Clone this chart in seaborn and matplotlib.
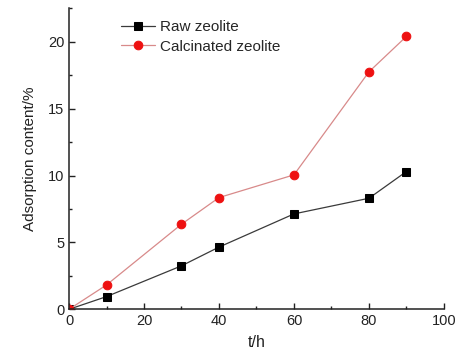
import matplotlib
matplotlib.use("Agg")
import matplotlib.pyplot as plt
from matplotlib.ticker import MultipleLocator
import seaborn as sns
import pandas as pd

# Adsorption over time for two zeolite samples
time_h = [0, 10, 30, 40, 60, 80, 90]
raw_zeolite = [0, 0.95, 3.25, 4.65, 7.13, 8.30, 10.30]
calcinated_zeolite = [0, 1.82, 6.36, 8.35, 10.05, 17.75, 20.40]
series_names = ["Raw zeolite", "Calcinated zeolite"]

sns.set_theme(style="ticks")
plt.rcParams["font.family"] = ["Liberation Sans", "DejaVu Sans"]

fig = plt.figure(figsize=(4.61, 3.55), dpi=100)
ax = fig.add_axes([0.1497, 0.1287, 0.8133, 0.848])

df = pd.DataFrame({
    "t": time_h * 2,
    "value": raw_zeolite + calcinated_zeolite,
    "series": [series_names[0]] * len(time_h) + [series_names[1]] * len(time_h),
})

sns.lineplot(data=df[df["series"] == series_names[0]], x="t", y="value",
             ax=ax, color="#3a3a3a", lw=0.9, marker="s", markersize=5.2,
             markerfacecolor="black", markeredgecolor="black",
             label=series_names[0])
sns.lineplot(data=df[df["series"] == series_names[1]], x="t", y="value",
             ax=ax, color="#d88a8a", lw=0.9, marker="o", markersize=6.2,
             markerfacecolor="#ee1111", markeredgecolor="#ee1111",
             label=series_names[1])

ax.set_xlim(0, 100)
ax.set_ylim(0, 22.5)
ax.xaxis.set_major_locator(MultipleLocator(20))
ax.xaxis.set_minor_locator(MultipleLocator(10))
ax.yaxis.set_major_locator(MultipleLocator(5))
ax.yaxis.set_minor_locator(MultipleLocator(2.5))
ax.tick_params(which="both", direction="in", colors="#222222", labelsize=10.5,
               width=1.0)
ax.tick_params(which="major", length=4.5)
ax.tick_params(which="minor", length=2.5)
for s in ["top", "right"]:
    ax.spines[s].set_visible(False)
for s in ["left", "bottom"]:
    ax.spines[s].set_color("#222222")
    ax.spines[s].set_linewidth(1.1)

ax.set_xlabel("t/h", fontsize=11.5, color="#222222", labelpad=5)
ax.set_ylabel("Adsorption content/%", fontsize=11, color="#222222", labelpad=8)

ax.legend(loc="upper left", bbox_to_anchor=(0.115, 0.99), frameon=False,
          fontsize=11, handlelength=2.2, handletextpad=0.35, labelspacing=0.35,
          borderaxespad=0.2)

fig.savefig("out.png", dpi=100)
